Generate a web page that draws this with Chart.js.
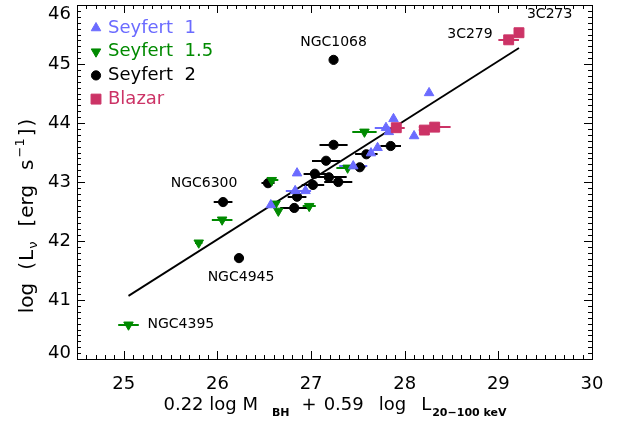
<!DOCTYPE html>
<html>
<head>
<meta charset="utf-8">
<script src="https://cdn.jsdelivr.net/npm/chart.js@4/dist/chart.umd.min.js"></script>
<style>
html, body { margin: 0; padding: 0; background: #fff; }
</style>
</head>
<body>
<canvas id="chart" width="620" height="425"></canvas>
<script>
// data
const sy1X = [26.85, 26.83, 26.94, 26.57, 27.45, 27.64, 27.71, 27.80, 27.83, 27.88, 28.10, 28.26];
const sy1Y = [43.15, 42.85, 42.85, 42.61, 43.27, 43.49, 43.58, 43.92, 43.85, 44.07, 43.78, 44.51];
const sy1Err = [0, 0.10, 0.06, 0, 0.15, 0, 0, 0.12, 0, 0, 0, 0];

const sy15X = [26.58, 26.05, 25.80, 25.05, 26.62, 26.65, 26.98, 27.39, 27.57];
const sy15Y = [43.03, 42.36, 41.97, 40.58, 42.63, 42.51, 42.59, 43.24, 43.85];
const sy15Err = [0.07, 0.11, 0.04, 0.11, 0, 0, 0.07, 0.12, 0.13];

const sy2X = [27.24, 26.06, 26.23, 26.54, 27.24, 27.16, 27.04, 27.19, 27.29, 27.02, 26.85, 26.82, 27.59, 27.52, 27.85];
const sy2Y = [45.07, 42.66, 41.71, 42.98, 43.63, 43.36, 43.14, 43.08, 43.00, 42.95, 42.75, 42.56, 43.47, 43.25, 43.61];
const sy2Err = [0, 0.10, 0.05, 0.07, 0.15, 0.15, 0.12, 0.19, 0.15, 0.12, 0.10, 0.15, 0.12, 0.06, 0.11];

const blzX = [27.91, 28.21, 28.32, 29.11, 29.22];
const blzY = [43.92, 43.88, 43.93, 45.41, 45.53];
const blzErr = [0.09, 0.06, 0.17, 0.11, 0];

const fitX = [25.05, 29.22];
const fitY = [41.07, 45.27];

const xTickVals = [25, 26, 27, 28, 29, 30];
const yTickVals = [40, 41, 42, 43, 44, 45, 46];

const seriesNames = ['Seyfert 1', 'Seyfert 1.5', 'Seyfert 2', 'Blazar'];
const seriesColors = ['#6b6bff', '#008a00', '#000000', '#cc3366'];

// labelled objects: [series index, point index]
const labelNames = ['NGC1068', 'NGC6300', 'NGC4945', 'NGC4395', '3C279', '3C273'];
const labelRefs = [[2, 0], [2, 1], [2, 2], [1, 3], [3, 3], [3, 4]];

const FONT = '"DejaVu Sans", sans-serif';

function toPts(xs, ys) {
    return xs.map((x, i) => ({ x: x, y: ys[i] }));
}

// horizontal error bars
const errorBars = {
    id: 'errorBars',
    beforeDatasetsDraw(chart) {
        const ctx = chart.ctx;
        const xs = chart.scales.x, ys = chart.scales.y;
        ctx.save();
        chart.data.datasets.forEach(ds => {
            if (!ds.err) return;
            ctx.strokeStyle = ds.borderColor;
            ctx.lineWidth = 2;
            ds.data.forEach((p, i) => {
                const e = ds.err[i];
                if (!e) return;
                const py = Math.round(ys.getPixelForValue(p.y));
                ctx.beginPath();
                ctx.moveTo(xs.getPixelForValue(p.x - e), py);
                ctx.lineTo(xs.getPixelForValue(p.x + e), py);
                ctx.stroke();
            });
        });
        ctx.restore();
    }
};

// box with inward ticks on all four sides, y labels kept inside the box height
const frame = {
    id: 'frame',
    afterDraw(chart) {
        const ctx = chart.ctx;
        const a = chart.chartArea;
        const xs = chart.scales.x, ys = chart.scales.y;
        ctx.save();
        ctx.strokeStyle = '#000';
        ctx.lineWidth = 1;
        ctx.strokeRect(Math.round(a.left) + 0.5, Math.round(a.top) + 0.5, Math.round(a.right - a.left), Math.round(a.bottom - a.top));
        ctx.beginPath();
        for (let k = 245; k <= 300; k++) {
            const px = Math.round(xs.getPixelForValue(k / 10)) + 0.5;
            const len = k % 10 === 0 ? 8 : 4;
            ctx.moveTo(px, a.bottom); ctx.lineTo(px, a.bottom - len);
            ctx.moveTo(px, a.top); ctx.lineTo(px, a.top + len);
        }
        for (let k = 400; k <= 460; k++) {
            const py = Math.round(ys.getPixelForValue(k / 10)) + 0.5;
            const len = k % 10 === 0 ? 8 : 4;
            ctx.moveTo(a.left, py); ctx.lineTo(a.left + len, py);
            ctx.moveTo(a.right, py); ctx.lineTo(a.right - len, py);
        }
        ctx.stroke();

        ctx.fillStyle = '#000';
        ctx.font = '18px ' + FONT;
        ctx.textAlign = 'right';
        ctx.textBaseline = 'middle';
        yTickVals.forEach(v => {
            let py = ys.getPixelForValue(v);
            py = Math.min(Math.max(py, a.top + 9), a.bottom - 6);
            ctx.fillText(String(v), a.left - 6, py);
        });
        ctx.restore();
    }
};

// text made of pieces: [text, font, baseline shift, gap before]
function drawPieces(ctx, pieces, cx, cy) {
    let total = 0;
    pieces.forEach(p => { ctx.font = p[1]; total += ctx.measureText(p[0]).width + p[3]; });
    let x = cx - total / 2;
    pieces.forEach(p => {
        ctx.font = p[1];
        x += p[3];
        ctx.fillText(p[0], x, cy + p[2]);
        x += ctx.measureText(p[0]).width;
    });
}

const annotations = {
    id: 'annotations',
    afterDraw(chart) {
        const ctx = chart.ctx;
        ctx.save();
        ctx.fillStyle = '#000';
        ctx.textBaseline = 'middle';
        ctx.textAlign = 'left';

        // axis titles
        const big = '18px ' + FONT;
        const ybig = '20px ' + FONT;
        const sub = 'bold 11px ' + FONT;
        const sm = '13px ' + FONT;
        drawPieces(ctx, [
            ['0.22 log M', big, 0, 0], ['BH', sub, 8, 14],
            ['+', big, 0, 12], ['0.59', big, 0, 7], ['log', big, 0, 15], ['L', big, 0, 15],
            ['20\u2212100 keV', sub, 8, 1]
        ], 335, 405);

        ctx.save();
        ctx.translate(28, 216);
        ctx.rotate(-Math.PI / 2);
        drawPieces(ctx, [
            ['log', ybig, 0, 0], ['(', ybig, 0, 13], ['L', ybig, 0, 1], ['\u03bd', sm, 6, 1],
            ['[', ybig, 0, 15], ['erg', ybig, 0, 1], ['s', ybig, 0, 15], ['\u22121', sm, -7, 2],
            [']', ybig, 0, 2], [')', ybig, 0, 2]
        ], 0, 0);
        ctx.restore();

        // legend
        chart.data.datasets.slice(0, 4).forEach((ds, i) => {
            const y = 28 + i * 23.7;
            ctx.fillStyle = ds.backgroundColor;
            ctx.strokeStyle = ds.borderColor;
            ctx.lineWidth = 1;
            Chart.helpers.drawPoint(ctx, { pointStyle: ds.pointStyle, rotation: ds.pointRotation || 0, radius: ds.pointRadius, borderWidth: 1 }, 96, y);
            ctx.font = big;
            ctx.fillText(seriesNames[i].replace(' ', '  '), 108, y);
        });

        // object names
        const offs = [[0, -18, 'center'], [-19, -19, 'center'], [2, 19, 'center'], [19, 0, 'left'], [-16, -5, 'right'], [8, -18, 'left']];
        ctx.fillStyle = '#000';
        ctx.font = '14px ' + FONT;
        labelNames.forEach((name, i) => {
            const ds = chart.data.datasets[labelRefs[i][0]];
            const p = ds.data[labelRefs[i][1]];
            const px = chart.scales.x.getPixelForValue(p.x);
            const py = chart.scales.y.getPixelForValue(p.y);
            ctx.textAlign = offs[i][2];
            ctx.fillText(name, px + offs[i][0], py + offs[i][1]);
        });
        ctx.restore();
    }
};

const tickFont = { family: FONT, size: 18 };

new Chart(document.getElementById('chart'), {
    type: 'scatter',
    data: {
        datasets: [
            { label: seriesNames[0], data: toPts(sy1X, sy1Y), err: sy1Err, pointStyle: 'triangle', pointRadius: 5.5,
              backgroundColor: seriesColors[0], borderColor: seriesColors[0], order: 1 },
            { label: seriesNames[1], data: toPts(sy15X, sy15Y), err: sy15Err, pointStyle: 'triangle', pointRotation: 180, pointRadius: 5.5,
              backgroundColor: seriesColors[1], borderColor: seriesColors[1], order: 2 },
            { label: seriesNames[2], data: toPts(sy2X, sy2Y), err: sy2Err, pointStyle: 'circle', pointRadius: 4.6,
              backgroundColor: seriesColors[2], borderColor: seriesColors[2], order: 3 },
            { label: seriesNames[3], data: toPts(blzX, blzY), err: blzErr, pointStyle: 'rect', pointRadius: 7,
              backgroundColor: seriesColors[3], borderColor: seriesColors[3], order: 0 },
            { type: 'line', label: 'fit', data: toPts(fitX, fitY), borderColor: '#000', borderWidth: 1.8,
              pointRadius: 0, fill: false, order: 5 }
        ]
    },
    options: {
        responsive: false,
        animation: false,
        layout: { autoPadding: false, padding: { left: 46, right: 28, top: 5, bottom: 30 } },
        plugins: { legend: { display: false }, tooltip: { enabled: false } },
        scales: {
            x: {
                type: 'linear', min: 24.5, max: 30,
                grid: { display: false, drawTicks: false, tickLength: 0 },
                border: { display: false },
                ticks: { padding: 15, color: '#000', font: tickFont, maxRotation: 0 },
                afterBuildTicks: s => { s.ticks = xTickVals.map(v => ({ value: v })); },
                afterFit: s => { s.height = 36; s.paddingLeft = 0; s.paddingRight = 0; }
            },
            y: {
                type: 'linear', min: 40, max: 46,
                grid: { display: false, drawTicks: false, tickLength: 0 },
                border: { display: false },
                ticks: { display: false },
                afterBuildTicks: s => { s.ticks = yTickVals.map(v => ({ value: v })); },
                afterFit: s => { s.width = 31; s.paddingTop = 0; s.paddingBottom = 0; }
            }
        }
    },
    plugins: [errorBars, frame, annotations]
});
</script>
</body>
</html>
